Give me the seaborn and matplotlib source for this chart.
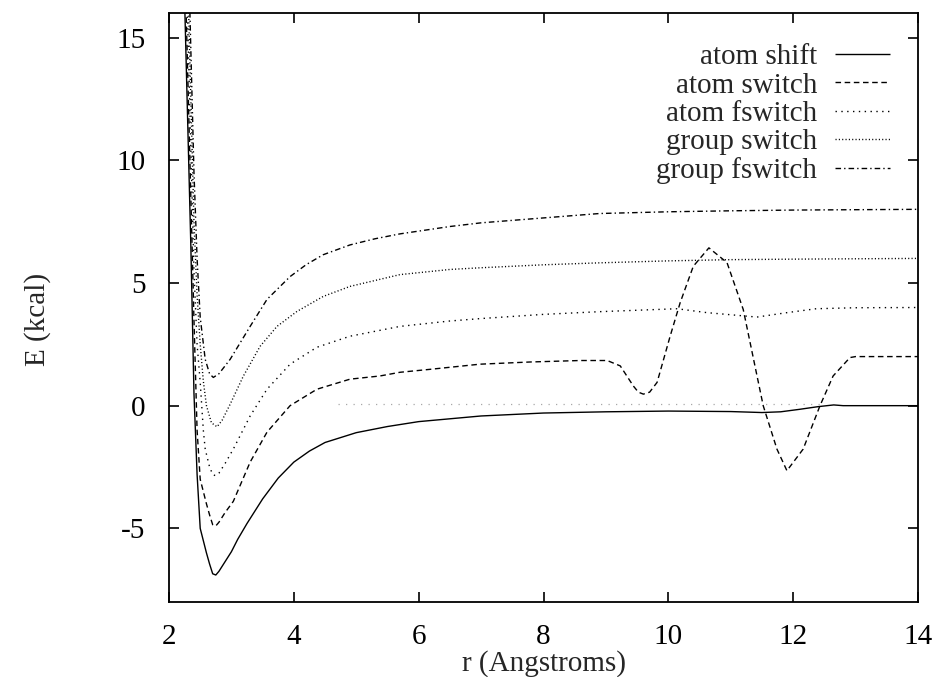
import matplotlib
matplotlib.use("Agg")
import matplotlib.pyplot as plt
import seaborn as sns
import pandas as pd

# Interaction energy vs. separation for different cutoff treatments
r_atom_shift = [2.25, 2.30, 2.35, 2.40, 2.45, 2.50, 2.55, 2.60, 2.65, 2.70, 2.75, 2.80,
                2.90, 3.00, 3.10, 3.25, 3.50, 3.75, 4.00, 4.25, 4.50, 5.00, 5.50, 6.00,
                7.00, 8.00, 9.00, 10.00, 11.00, 11.50, 11.80, 12.10, 12.40, 12.65, 12.80, 14.00]
E_atom_shift = [16.5, 11.5, 6.5, 0.5, -2.8, -5.0, -5.5, -6.0, -6.45, -6.85, -6.9, -6.75,
                -6.35, -5.95, -5.45, -4.8, -3.8, -2.95, -2.3, -1.85, -1.5, -1.1, -0.85, -0.65,
                -0.42, -0.3, -0.25, -0.22, -0.24, -0.28, -0.25, -0.15, -0.04, 0.03, 0.0, 0.0]

r_atom_switch = [2.25, 2.30, 2.35, 2.40, 2.45, 2.50, 2.55, 2.60, 2.65, 2.70, 2.75, 2.80,
                 2.90, 3.03, 3.30, 3.57, 3.94, 4.37, 4.90, 5.38, 5.70, 6.18, 6.98, 7.79,
                 8.59, 9.02, 9.23, 9.44, 9.52, 9.60, 9.70, 9.82, 10.03, 10.19, 10.40, 10.65,
                 10.94, 11.20, 11.52, 11.74, 11.90, 12.16, 12.43, 12.64, 12.91, 13.00, 14.00]
E_atom_switch = [18.5, 13.5, 8.5, 3.5, -1.0, -3.0, -3.5, -4.0, -4.45, -4.85, -4.9, -4.75,
                 -4.35, -3.9, -2.3, -1.08, 0.0, 0.67, 1.08, 1.21, 1.36, 1.48, 1.69, 1.78,
                 1.84, 1.84, 1.62, 0.8, 0.55, 0.47, 0.55, 0.95, 2.84, 4.2, 5.68, 6.43,
                 5.83, 3.92, 0.0, -1.77, -2.65, -1.77, 0.0, 1.21, 1.96, 2.0, 2.0]

r_atom_fswitch = [2.25, 2.30, 2.35, 2.40, 2.45, 2.50, 2.55, 2.58, 2.65, 2.70, 2.74, 2.80,
                  2.90, 3.03, 3.30, 3.57, 3.94, 4.37, 4.90, 5.70, 6.50, 7.00, 8.00, 8.90,
                  10.14, 10.62, 11.42, 11.90, 12.37, 13.00, 14.00]
E_atom_fswitch = [20.0, 15.5, 10.5, 5.5, 2.5, 0.95, -1.0, -1.77, -2.5, -2.8, -2.85, -2.75,
                  -2.35, -1.77, -0.42, 0.67, 1.69, 2.38, 2.83, 3.23, 3.45, 3.55, 3.72, 3.83,
                  3.95, 3.79, 3.61, 3.79, 3.95, 3.99, 4.0]

r_group_switch = [2.25, 2.30, 2.35, 2.40, 2.45, 2.50, 2.55, 2.60, 2.68, 2.77, 2.85, 2.98,
                  3.19, 3.46, 3.73, 4.05, 4.47, 4.90, 5.70, 6.50, 7.00, 8.00, 8.90, 10.00,
                  11.00, 12.00, 14.00]
E_group_switch = [22.0, 17.5, 12.5, 7.5, 4.5, 2.5, 1.0, 0.0, -0.7, -0.86, -0.6, 0.06,
                  1.2, 2.42, 3.23, 3.84, 4.45, 4.86, 5.34, 5.55, 5.62, 5.74, 5.82, 5.9,
                  5.95, 5.97, 6.0]

r_group_fswitch = [2.25, 2.30, 2.35, 2.40, 2.45, 2.50, 2.58, 2.65, 2.71, 2.80, 2.98, 3.30,
                   3.57, 3.94, 4.20, 4.47, 4.90, 5.30, 5.70, 6.50, 7.00, 8.00, 8.90, 10.00,
                   11.00, 12.00, 14.00]
E_group_fswitch = [24.0, 19.5, 14.5, 9.5, 6.0, 3.6, 1.89, 1.3, 1.15, 1.3, 1.89, 3.23,
                   4.33, 5.26, 5.75, 6.15, 6.55, 6.8, 7.0, 7.3, 7.45, 7.65, 7.83, 7.9,
                   7.94, 7.97, 8.0]

# faint zero-energy trace
r_zero = [4.7, 12.5]
E_zero = [0.05, 0.05]

labels = ["atom shift", "atom switch", "atom fswitch", "group switch", "group fswitch"]
x_ticks = [2, 4, 6, 8, 10, 12, 14]
y_ticks = [-5, 0, 5, 10, 15]

series = [
    (r_atom_shift, E_atom_shift, (0, ())),
    (r_atom_switch, E_atom_switch, (0, (4.0, 2.6))),
    (r_atom_fswitch, E_atom_fswitch, (0, (1.0, 3.2))),
    (r_group_switch, E_group_switch, (0, (0.8, 1.6))),
    (r_group_fswitch, E_group_fswitch, (0, (4.0, 2.2, 1.0, 2.2))),
]

sns.set_theme(style="ticks")
plt.rcParams["font.family"] = ["Liberation Serif", "DejaVu Serif"]
plt.rcParams["font.size"] = 21

fig = plt.figure(figsize=(9.33, 6.77), dpi=100)
ax = fig.add_axes([169 / 933, 1 - 602 / 677, (918 - 169) / 933, (602 - 13) / 677])

sns.lineplot(x=r_zero, y=E_zero, ax=ax, color="#a8a8a8", linewidth=0.9,
             linestyle=(0, (1.0, 5.0)), estimator=None, sort=False)

for (r, E, ls), lab in zip(series, labels):
    df = pd.DataFrame({"r": r, "E": E})
    sns.lineplot(data=df, x="r", y="E", ax=ax, color="black", linewidth=1.0,
                 linestyle=ls, estimator=None, sort=False, label=lab)

ax.set_xlim(2, 14)
ax.set_ylim(-8, 16)
ax.set_xticks(x_ticks)
ax.set_yticks(y_ticks)
ax.set_xticklabels([str(t) for t in x_ticks], fontsize=21)
ax.set_yticklabels([str(t) for t in y_ticks], fontsize=21)
ax.tick_params(direction="in", length=7, width=1.2, top=True, right=True,
               colors="black")
ax.tick_params(axis="x", pad=16)
ax.tick_params(axis="y", pad=17)
for s in ax.spines.values():
    s.set_visible(True)
    s.set_linewidth(1.3)
    s.set_color("black")

ax.set_xlabel("r (Angstroms)", fontsize=21, labelpad=0)
ax.set_ylabel("E (kcal)", fontsize=21)
ax.yaxis.set_label_coords(-0.158, 0.48)

leg = ax.legend(loc="upper right", bbox_to_anchor=(0.963, 0.948), frameon=False,
                markerfirst=False, fontsize=21, handlelength=1.9,
                handletextpad=0.6, labelspacing=0.07, borderpad=0, borderaxespad=0)
for line in leg.get_lines():
    line.set_linewidth(1.0)

fig.savefig("out.png", dpi=100)
